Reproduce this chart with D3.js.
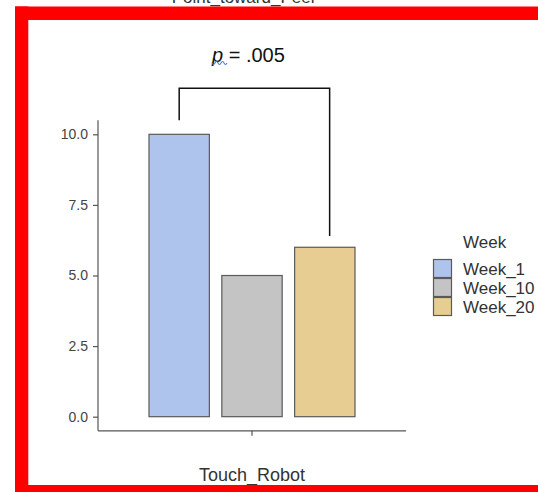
<!DOCTYPE html>
<html><head><meta charset="utf-8">
<script src="https://cdn.jsdelivr.net/npm/d3@7"></script>
<style>body{margin:0;background:#fff}svg{display:block}</style>
</head><body>
<svg id="c" width="538" height="492"></svg>
<script>
const categories = ["Touch_Robot"];
const weeks = ["Week_1", "Week_10", "Week_20"];
const values = [10, 5, 6];
const yTicks = [0, 2.5, 5, 7.5, 10];
const colors = ["#aec4ec", "#c4c4c4", "#e8cd92"];
const title = "Point_toward_Peer";
const pText = ".005";

const svg = d3.select("#c");
const font = "Liberation Sans, Arial, Helvetica, sans-serif";

// y scale
const y = d3.scaleLinear().domain([-0.5, 10.5]).range([430.8, 120.2]);
const x = d3.scaleBand().domain(categories).range([98, 406]).paddingInner(0).paddingOuter(0.2476);
const xi = d3.scaleBand().domain(weeks).range([0, x.bandwidth()]).paddingInner(0.171).paddingOuter(0);

// bars
const g = svg.append("g").attr("transform", `translate(${x(categories[0])},0)`);
g.selectAll("rect").data(weeks).join("rect")
  .attr("x", d => xi(d))
  .attr("y", (d, i) => y(values[i]))
  .attr("width", xi.bandwidth())
  .attr("height", (d, i) => y(0) - y(values[i]))
  .attr("fill", (d, i) => colors[i])
  .attr("stroke", "#5a5a5a").attr("stroke-width", 1.2);

// y axis
const ya = svg.append("g").attr("transform", "translate(98,0)")
  .call(d3.axisLeft(y).tickValues(yTicks).tickFormat(d3.format(".1f")).tickSize(5).tickPadding(5));
ya.select(".domain").attr("stroke", "#555").attr("stroke-width", 1.2).attr("d", `M0,${y(10.5)}V${y(-0.5)}`);
ya.selectAll(".tick line").attr("stroke", "#555").attr("stroke-width", 1.2);
ya.selectAll(".tick text").attr("fill", "#444").style("font-family", font).style("font-size", "14px");

// x axis
const xa = svg.append("g").attr("transform", `translate(0,${y(-0.5)})`)
  .call(d3.axisBottom(x).tickSize(5).tickFormat(""));
xa.select(".domain").attr("stroke", "#555").attr("stroke-width", 1.2).attr("d", `M98,0H406`);
xa.selectAll(".tick line").attr("stroke", "#555").attr("stroke-width", 1.2);
svg.append("text").attr("x", x(categories[0]) + x.bandwidth() / 2).attr("y", 481)
  .attr("text-anchor", "middle").attr("fill", "#333").style("font-family", font).style("font-size", "18px")
  .text(categories[0]);

// significance bracket
const x0 = x(categories[0]);
const lx = x0 + xi(weeks[0]) + xi.bandwidth() / 2;
const rx = x0 + xi(weeks[2]) + xi.bandwidth() * 0.58;
svg.append("path")
  .attr("d", `M${lx},${y(10.5)}V${y(11.63)}H${rx}V${y(6.4)}`)
  .attr("fill", "none").attr("stroke", "#111").attr("stroke-width", 1.5);
const pt = svg.append("text").attr("x", 212).attr("y", 62)
  .attr("fill", "#111").style("font-family", font).style("font-size", "20px");
pt.append("tspan").style("font-style", "italic").text("p");
pt.append("tspan").text(" = " + pText);
svg.append("path")
  .attr("d", "M212,63 q1.5,3 3,0 t3,0 t3,0 t3,0 t3,0")
  .attr("fill", "none").attr("stroke", "#4a78d0").attr("stroke-width", 1.1);

// legend
svg.append("text").attr("x", 463).attr("y", 248).attr("fill", "#333")
  .style("font-family", font).style("font-size", "17px").text("Week");
const lg = svg.append("g");
weeks.forEach((w, i) => {
  const yy = 259.5 + i * 19;
  lg.append("rect").attr("x", 433.5).attr("y", yy).attr("width", 18).attr("height", 18)
    .attr("fill", colors[i]).attr("stroke", "#5a5a5a").attr("stroke-width", 1.2);
  lg.append("text").attr("x", 463).attr("y", yy + 15).attr("fill", "#333")
    .style("font-family", font).style("font-size", "17px").text(w);
});

// top title, cut off by the top edge as in the reference
svg.append("text").attr("x", 244).attr("y", 3).attr("text-anchor", "middle").attr("fill", "#333")
  .style("font-family", font).style("font-size", "17px").text(title);

// red frame
svg.append("rect").attr("x", 15).attr("y", 6.5).attr("width", 523).attr("height", 13.5).attr("fill", "#ff0000");
svg.append("rect").attr("x", 15).attr("y", 6.5).attr("width", 13.3).attr("height", 486).attr("fill", "#ff0000");
svg.append("rect").attr("x", 15).attr("y", 485).attr("width", 523).attr("height", 7).attr("fill", "#ff0000");
</script>
</body></html>
